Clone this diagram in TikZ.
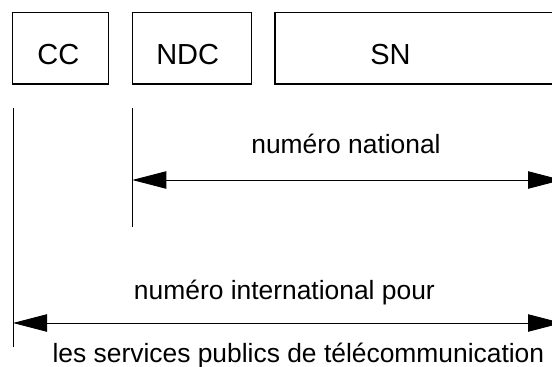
\documentclass[tikz,border=0pt]{standalone}
\usepackage{fontspec}
\setmainfont{Liberation Sans}
\usetikzlibrary{arrows.meta}
\begin{document}
\begin{tikzpicture}[x=1pt,y=-1pt,
  field/.style={draw, line width=1.2pt, minimum height=71.7pt, inner sep=0pt},
  fieldtext/.style={font=\fontsize{29}{32}\selectfont, anchor=base, inner sep=0pt},
  lbl/.style={font=\fontsize{26.4}{30}\selectfont, anchor=base, inner sep=0pt},
  tick/.style={line width=0.9pt},
  span/.style={line width=0.9pt, {Triangle[length=34pt,width=17.4pt]}-{Triangle[length=34pt,width=17.4pt]}}]
\useasboundingbox (0,0) rectangle (552,367);
% fields
\node[field, minimum width=95.6pt] (cc) at (60.5,48.15) {};
\node[field, minimum width=119.4pt] (ndc) at (192,48.15) {};
\node[field, minimum width=287pt] (sn) at (418.5,48.15) {};
\node[fieldtext] (cct) at (58.3,64) {CC};
\node[fieldtext] (ndct) at (187.7,64) {NDC};
\node[fieldtext] (snt) at (390.5,64) {SN};
% tick lines
\coordinate (ccTop) at (13,108);
\coordinate (ccBot) at (13,347);
\coordinate (ndcTop) at (132.3,108);
\coordinate (ndcBot) at (132.3,227.3);
\draw[tick] (ccTop) -- (ccBot);
\draw[tick] (ndcTop) -- (ndcBot);
% national span
\coordinate (natL) at (132.3,180);
\coordinate (natR) at (562,180);
\draw[span] (natL) -- (natR);
\node[lbl] (natlbl) at (346,153) {numéro national};
% international span
\coordinate (intL) at (13,323);
\coordinate (intR) at (562,323);
\draw[span] (intL) -- (intR);
\node[lbl] (intlbl1) at (284.4,299.5) {numéro international pour};
\node[lbl] (intlbl2) at (298.4,362) {les services publics de télécommunication};
\end{tikzpicture}
\end{document}
